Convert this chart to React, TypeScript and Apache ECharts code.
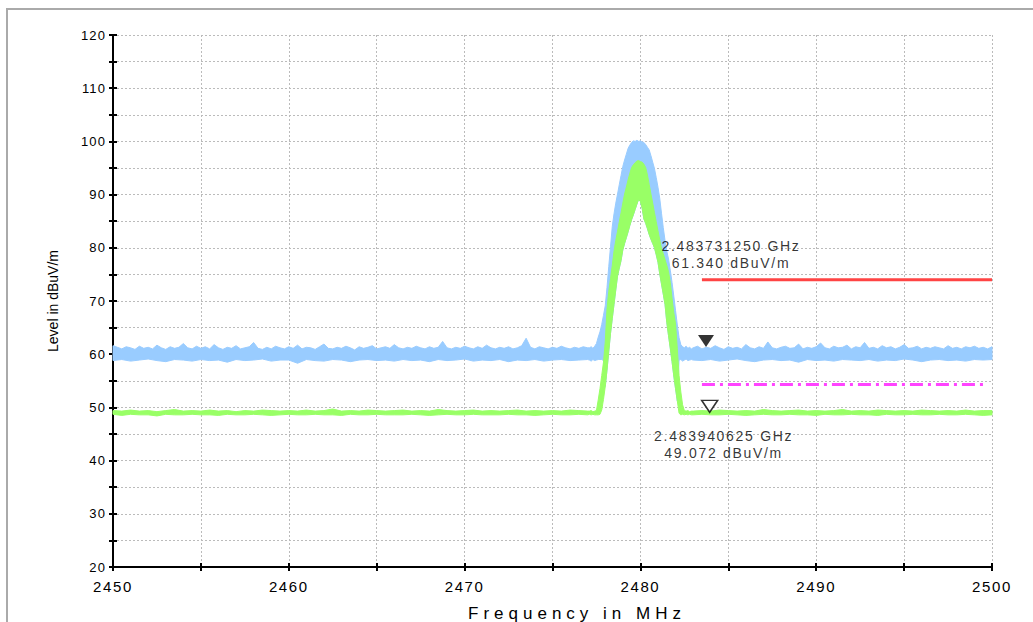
import React, { useEffect, useRef } from 'react';
import * as echarts from 'echarts';

// ---------- axis / scale values ----------
const FREQ_MIN = 2450;
const FREQ_MAX = 2500;
const LEVEL_MIN = 20;
const LEVEL_MAX = 120;
const TICK_STEP = 5;

// sample grids of the traces (MHz)
const LEFT_START = 2450;      // flat part left of the carrier
const PEAK_START = 2477.1;    // carrier region
const RIGHT_START = 2483.0;   // flat part right of the carrier
const FINE_STEP = 0.25;
const COARSE_STEP = 0.5;
const PEAK_STEP = 0.1;

// ---------- blue trace (peak detector), upper / lower envelope ----------
const blueUpperLeft = [
  61.6, 61.3, 61.0, 61.4, 61.2, 60.9, 61.5, 61.1, 61.3, 61.0,
  61.7, 61.2, 60.9, 61.4, 61.1, 61.3, 62.0, 61.2, 61.0, 61.5,
  61.1, 61.4, 61.0, 61.8, 61.2, 60.9, 61.3, 61.1, 61.6, 61.0,
  61.2, 61.4, 62.2, 61.1, 60.9, 61.3, 61.0, 61.5, 61.2, 61.0,
  61.4, 61.1, 61.7, 61.0, 61.3, 61.2, 60.9, 61.4, 61.9, 61.1,
  61.0, 61.3, 61.1, 61.5, 61.2, 60.8, 61.4, 61.1, 61.3, 61.6,
  61.0, 61.2, 61.4, 61.1, 61.8, 61.2, 61.0, 61.3, 61.1, 61.5,
  61.2, 61.0, 61.4, 61.1, 61.3, 62.4, 61.2, 61.0, 61.3, 61.1,
  61.5, 61.2, 61.0, 61.4, 61.1, 61.7, 61.2, 61.0, 61.3, 61.1,
  61.4, 61.0, 61.2, 61.6, 63.0, 61.3, 61.0, 61.4, 61.2, 61.0,
  61.3, 61.1, 61.5, 61.2, 61.0, 61.3, 61.1, 61.4, 61.2,
];
const bluePeakUpper = [
  61.2, 61.4, 61.1, 61.5, 62.0, 63.2, 64.2, 65.6, 67.3,
  69.1, 72.5, 76.5, 80.2, 84.0, 86.4, 88.4, 90.1, 91.9, 93.6,
  95.3, 96.5, 97.6, 98.7, 99.3, 99.8, 100.1, 100.0, 100.2, 100.0,
  100.1, 99.9, 99.8, 99.4, 98.9, 98.4, 97.3, 96.1, 94.9, 93.2,
  91.4, 89.3, 86.5, 83.8, 81.4, 79.4, 77.9, 75.8, 73.5, 70.9,
  68.2, 65.5, 63.1, 61.8, 61.4, 61.2, 61.5, 61.1, 61.3, 61.0,
];
const blueUpperRight = [
  61.2, 61.5, 61.0, 61.3, 61.1, 61.6, 61.2, 60.9, 61.4, 61.1,
  61.3, 61.0, 61.8, 61.2, 61.0, 61.4, 61.1, 62.3, 61.2, 61.0,
  61.3, 61.5, 61.1, 61.2, 61.9, 61.0, 61.3, 61.1, 61.4, 62.1,
  61.2, 61.0, 61.5, 61.2, 61.3, 61.7, 61.0, 61.4, 61.2, 62.2,
  61.1, 61.3, 61.0, 61.6, 61.2, 61.4, 61.0, 61.3, 61.8, 61.1,
  61.2, 61.5, 61.0, 61.3, 61.1, 61.4, 61.2, 61.0, 61.6, 61.1,
  61.3, 61.0, 61.4, 61.2, 61.5, 61.1, 61.3, 61.0, 61.4,
];
const blueLowerLeft = [
  58.8, 59.0, 58.7, 58.9, 59.1, 58.8, 58.6, 59.0, 58.9, 58.7,
  59.0, 58.8, 58.9, 58.5, 59.0, 58.8, 58.9, 59.1, 58.7, 58.9,
  58.9, 58.3, 59.0, 58.8, 58.7, 59.0, 58.9, 58.6, 58.9, 59.0,
  58.8, 58.9, 58.7, 59.0, 58.8, 58.9, 58.6, 59.0, 58.8, 58.9,
  59.1, 58.7, 58.9, 58.8, 59.0, 58.6, 58.9, 58.8, 59.0, 58.7,
  58.9, 59.0, 58.8, 58.9, 59.0,
];
const bluePeakLower = [
  58.9, 58.7, 59.0, 58.8, 58.9, 59.0, 59.0, 59.0, 58.8,
  53.9, 57.0, 60.5, 63.9, 66.7, 69.4, 72.1, 74.7, 76.2, 77.6,
  79.6, 80.8, 81.9, 83.0, 84.2, 85.3, 86.2, 87.2, 88.2, 89.1,
  88.7, 87.4, 85.4, 84.6, 83.6, 82.5, 81.6, 80.8, 80.0, 78.7,
  77.3, 75.1, 73.2, 71.3, 69.4, 66.0, 63.5, 61.1, 58.6, 55.9,
  53.5, 51.2, 58.9, 59.0, 58.7, 58.9, 59.1, 58.8, 58.9, 59.0,
];
const blueLowerRight = [
  58.9, 58.8, 59.0, 58.7, 58.9, 59.1, 58.8, 58.6, 58.9, 59.0,
  58.8, 58.9, 58.5, 59.0, 58.8, 58.9, 58.7, 59.0, 58.9, 58.8,
  59.0, 58.7, 58.9, 58.8, 59.1, 58.9, 58.6, 58.9, 59.0, 58.8,
  58.9, 58.7, 59.0, 58.9, 59.0,
];

// ---------- green trace (average detector), upper / lower envelope ----------
const greenUpperLeft = [
  49.4, 49.3, 49.5, 49.3, 49.4, 49.2, 49.4, 49.6, 49.3, 49.4,
  49.3, 49.5, 49.3, 49.4, 49.2, 49.4, 49.3, 49.5, 49.4, 49.3,
  49.4, 49.3, 49.5, 49.3, 49.4, 49.7, 49.3, 49.4, 49.3, 49.5,
  49.4, 49.3, 49.4, 49.5, 49.3, 49.4, 49.3, 49.6, 49.4, 49.3,
  49.4, 49.5, 49.3, 49.4, 49.3, 49.4, 49.5, 49.3, 49.4, 49.3,
  49.4, 49.3, 49.5, 49.4, 49.3,
];
const greenPeakUpper = [
  49.3, 49.4, 49.2, 49.3, 49.4, 51.4, 53.5, 56.0, 58.5,
  62.3, 68.5, 71.8, 74.2, 76.7, 79.4, 81.4, 83.1, 84.9, 86.6,
  88.4, 90.1, 91.4, 92.8, 94.0, 95.1, 95.6, 96.0, 96.3, 96.4,
  96.2, 96.1, 95.7, 95.1, 93.7, 91.9, 90.1, 88.4, 86.6, 84.9,
  83.2, 81.5, 79.9, 78.9, 77.8, 76.7, 75.5, 73.5, 70.5, 67.8,
  65.7, 61.0, 56.0, 52.9, 50.5, 49.4, 49.3, 49.4, 49.2, 49.3,
];
const greenUpperRight = [
  49.3, 49.4, 49.3, 49.5, 49.4, 49.3, 49.4, 49.3, 49.6, 49.4,
  49.3, 49.4, 49.5, 49.3, 49.4, 49.3, 49.4, 49.6, 49.3, 49.4,
  49.3, 49.5, 49.4, 49.3, 49.4, 49.3, 49.5, 49.4, 49.3, 49.4,
  49.3, 49.5, 49.3, 49.4, 49.4,
];
const greenLowerLeft = [
  48.7, 48.5, 48.7, 48.6, 48.6, 48.4, 48.7, 48.6, 48.6, 48.7,
  48.6, 48.6, 48.5, 48.7, 48.6, 48.6, 48.7, 48.6, 48.5, 48.6,
  48.7, 48.6, 48.6, 48.7, 48.6, 48.6, 48.5, 48.7, 48.6, 48.6,
  48.7, 48.6, 48.6, 48.6, 48.7, 48.6, 48.5, 48.6, 48.7, 48.6,
  48.6, 48.7, 48.6, 48.6, 48.6, 48.7, 48.6, 48.6, 48.5, 48.6,
  48.7, 48.6, 48.6, 48.7, 48.6,
];
const greenPeakLower = [
  48.7, 48.6, 48.7, 48.6, 48.6, 48.6, 48.7, 49.5, 51.5,
  53.9, 57.0, 60.5, 63.9, 66.7, 69.4, 72.1, 74.7, 76.2, 77.6,
  79.6, 80.8, 81.9, 83.0, 84.2, 85.3, 86.2, 87.2, 88.2, 89.1,
  88.7, 87.4, 85.4, 84.6, 83.6, 82.5, 81.6, 80.8, 80.0, 78.7,
  77.3, 75.1, 73.2, 71.3, 69.4, 66.0, 63.5, 61.1, 58.6, 55.9,
  53.5, 51.2, 48.9, 48.6, 48.7, 48.6, 48.7, 48.6, 48.7, 48.6,
];
const greenLowerRight = [
  48.6, 48.7, 48.6, 48.6, 48.7, 48.6, 48.5, 48.6, 48.7, 48.6,
  48.6, 48.7, 48.6, 48.6, 48.5, 48.7, 48.6, 48.6, 48.7, 48.6,
  48.6, 48.5, 48.7, 48.6, 48.6, 48.7, 48.6, 48.6, 48.7, 48.6,
  48.6, 48.7, 48.6, 48.5, 48.6,
];

// ---------- limit lines ----------
const limitStart = 2483.5;
const peakLimit = 74;      // red
const avgLimit = 54.3;     // magenta dash-dot
const avgLimitEnd = 2499.7;

// ---------- markers ----------
const marker1 = { freq: 2483.73125, level: 61.34, text: ['2.483731250 GHz', '61.340 dBuV/m'] };
const marker2 = { freq: 2483.940625, level: 49.072, text: ['2.483940625 GHz', '49.072 dBuV/m'] };

const xTitle = 'Frequency in MHz';
const yTitle = 'Level in dBuV/m';

const BLUE = '#99ccff';
const GREEN = '#99ff66';
const FONT = "Arial, 'Liberation Sans', sans-serif";

// plot box in the 1033x622 page
const GRID_LEFT = 113;
const GRID_RIGHT = 41;
const GRID_TOP = 35;
const GRID_BOTTOM = 55;
const PLOT_W = 1033 - GRID_LEFT - GRID_RIGHT;
const PLOT_H = 622 - GRID_TOP - GRID_BOTTOM;

function toPairs(start: number, step: number, values: number[]) {
  return values.map((v, i) => [Math.round((start + i * step) * 1000) / 1000, v]);
}

const blueUpper = [
  ...toPairs(LEFT_START, FINE_STEP, blueUpperLeft),
  ...toPairs(PEAK_START, PEAK_STEP, bluePeakUpper),
  ...toPairs(RIGHT_START, FINE_STEP, blueUpperRight),
];
const blueLower = [
  ...toPairs(LEFT_START, COARSE_STEP, blueLowerLeft),
  ...toPairs(PEAK_START, PEAK_STEP, bluePeakLower),
  ...toPairs(RIGHT_START, COARSE_STEP, blueLowerRight),
];
const greenUpper = [
  ...toPairs(LEFT_START, COARSE_STEP, greenUpperLeft),
  ...toPairs(PEAK_START, PEAK_STEP, greenPeakUpper),
  ...toPairs(RIGHT_START, COARSE_STEP, greenUpperRight),
];
const greenLower = [
  ...toPairs(LEFT_START, COARSE_STEP, greenLowerLeft),
  ...toPairs(PEAK_START, PEAK_STEP, greenPeakLower),
  ...toPairs(RIGHT_START, COARSE_STEP, greenLowerRight),
];

function bandSeries(name: string, upper: number[][], lower: number[][], color: string, z: number) {
  return {
    type: 'custom',
    name,
    silent: true,
    z,
    coordinateSystem: 'cartesian2d',
    xAxisIndex: 0,
    yAxisIndex: 0,
    data: [upper[0]],
    encode: { x: 0, y: 1 },
    renderItem: (_params: any, api: any) => {
      const pts = upper.map((p) => api.coord(p)).concat(lower.slice().reverse().map((p) => api.coord(p)));
      return {
        type: 'polygon',
        shape: { points: pts },
        style: { fill: color, stroke: color, lineWidth: 1 },
      };
    },
  };
}

const TRI = 'path://M0,0 L10,0 L5,8 Z';

export default function App() {
  const ref = useRef<HTMLDivElement>(null);

  useEffect(() => {
    const el = ref.current!;
    const chart = echarts.init(el, undefined, { renderer: 'svg' });

    const axisLineStyle = { color: '#000', width: 2 };
    const tickStyle = { color: '#000', width: 2 };
    const gridLine = { show: true, lineStyle: { color: '#bbbbbb', width: 1, type: [2, 2] } };

    chart.setOption({
      animation: false,
      backgroundColor: '#fff',
      textStyle: { fontFamily: FONT },
      grid: { left: GRID_LEFT, right: GRID_RIGHT, top: GRID_TOP, bottom: GRID_BOTTOM },
      graphic: [
        {
          type: 'rect',
          silent: true,
          z: -10,
          shape: { x: 7, y: 9, width: 1060, height: 660 },
          style: { fill: 'none', stroke: '#aaaaaa', lineWidth: 2 },
        },
        {
          type: 'text',
          silent: true,
          x: 577,
          y: 613,
          style: {
            text: xTitle,
            fontSize: 17,
            fontFamily: FONT,
            fill: '#000',
            align: 'center',
            verticalAlign: 'middle',
            textAlign: 'center',
            textVerticalAlign: 'middle',
          },
        },
      ],
      xAxis: [
        {
          type: 'value',
          position: 'bottom',
          min: FREQ_MIN,
          max: FREQ_MAX,
          interval: TICK_STEP,
          axisLine: { show: true, lineStyle: axisLineStyle },
          axisTick: { show: true, inside: false, length: 4, lineStyle: tickStyle },
          axisLabel: {
            show: true,
            margin: 12,
            fontSize: 15,
            color: '#000',
            fontFamily: FONT,
            formatter: (v: number) => (v % 10 === 0 ? String(v) : ''),
          },
          splitLine: gridLine,
        },
        {
          // second scale placed on the same line, ticks pointing up into the plot
          type: 'value',
          position: 'top',
          offset: -PLOT_H,
          min: FREQ_MIN,
          max: FREQ_MAX,
          interval: TICK_STEP,
          axisLine: { show: false },
          axisTick: { show: true, inside: false, length: 4, lineStyle: tickStyle },
          axisLabel: { show: false },
          splitLine: { show: false },
        },
      ],
      yAxis: [
        {
          type: 'value',
          position: 'left',
          min: LEVEL_MIN,
          max: LEVEL_MAX,
          interval: TICK_STEP,
          name: yTitle,
          nameLocation: 'middle',
          nameGap: 53,
          nameTextStyle: { fontSize: 14, color: '#000', fontFamily: FONT },
          axisLine: { show: true, lineStyle: axisLineStyle },
          axisTick: { show: true, inside: false, length: 4, lineStyle: tickStyle },
          axisLabel: {
            show: true,
            margin: 7,
            fontSize: 13,
            color: '#000',
            fontFamily: FONT,
            formatter: (v: number) => (v % 10 === 0 ? String(v) : ''),
          },
          splitLine: gridLine,
        },
        {
          // second scale placed on the same line, ticks pointing right into the plot
          type: 'value',
          position: 'right',
          offset: -PLOT_W,
          min: LEVEL_MIN,
          max: LEVEL_MAX,
          interval: TICK_STEP,
          axisLine: { show: false },
          axisTick: { show: true, inside: false, length: 4, lineStyle: tickStyle },
          axisLabel: { show: false },
          splitLine: { show: false },
        },
      ],
      series: [
        bandSeries('Peak', blueUpper, blueLower, BLUE, 2),
        bandSeries('Average', greenUpper, greenLower, GREEN, 3),
        {
          type: 'line',
          name: 'Peak limit',
          silent: true,
          z: 4,
          data: [[limitStart, peakLimit], [FREQ_MAX, peakLimit]],
          symbol: 'none',
          lineStyle: { color: '#ff4444', width: 3 },
        },
        {
          type: 'line',
          name: 'Average limit',
          silent: true,
          z: 4,
          data: [[limitStart, avgLimit], [avgLimitEnd, avgLimit]],
          symbol: 'none',
          lineStyle: { color: '#ff44ff', width: 3, type: [13, 5, 3, 5] },
        },
        {
          type: 'scatter',
          name: 'M1',
          silent: true,
          z: 6,
          data: [[marker1.freq, marker1.level]],
          symbol: TRI,
          symbolSize: [16, 12],
          symbolOffset: [0, -6],
          itemStyle: { color: '#000' },
          label: {
            show: true,
            position: 'inside',
            offset: [25, -87],
            align: 'center',
            verticalAlign: 'middle',
            formatter: marker1.text.join('\n'),
            color: '#000',
            fontSize: 14,
            lineHeight: 17,
            fontFamily: FONT,
          },
        },
        {
          type: 'scatter',
          name: 'M2',
          silent: true,
          z: 6,
          data: [[marker2.freq, marker2.level]],
          symbol: TRI,
          symbolSize: [16, 12],
          symbolOffset: [0, -6],
          itemStyle: { color: '#ffffff', borderColor: '#000', borderWidth: 1.5 },
          label: {
            show: true,
            position: 'inside',
            offset: [14, 38],
            align: 'center',
            verticalAlign: 'middle',
            formatter: marker2.text.join('\n'),
            color: '#000',
            fontSize: 14,
            lineHeight: 17,
            fontFamily: FONT,
          },
        },
      ],
    });

    const applySpacing = () => {
      el.querySelectorAll('text').forEach((t) => {
        const s = (t.textContent || '').trim();
        const st = (t as SVGTextElement).style;
        if (s === xTitle) st.letterSpacing = '5px';
        else if (/^\d{4}$/.test(s)) st.letterSpacing = '1.6px';
        else if (/^\d{2,3}$/.test(s)) st.letterSpacing = '1.1px';
        else if (s !== yTitle && /(GHz|dBuV\/m)$/.test(s)) st.letterSpacing = '1.7px';
      });
    };
    chart.on('finished', applySpacing);
    applySpacing();
    const timer = window.setTimeout(applySpacing, 0);

    return () => {
      window.clearTimeout(timer);
      chart.dispose();
    };
  }, []);

  return (
    <div
      ref={ref}
      style={{ position: 'absolute', left: 0, top: 0, width: 1033, height: 622, background: '#fff' }}
    />
  );
}
